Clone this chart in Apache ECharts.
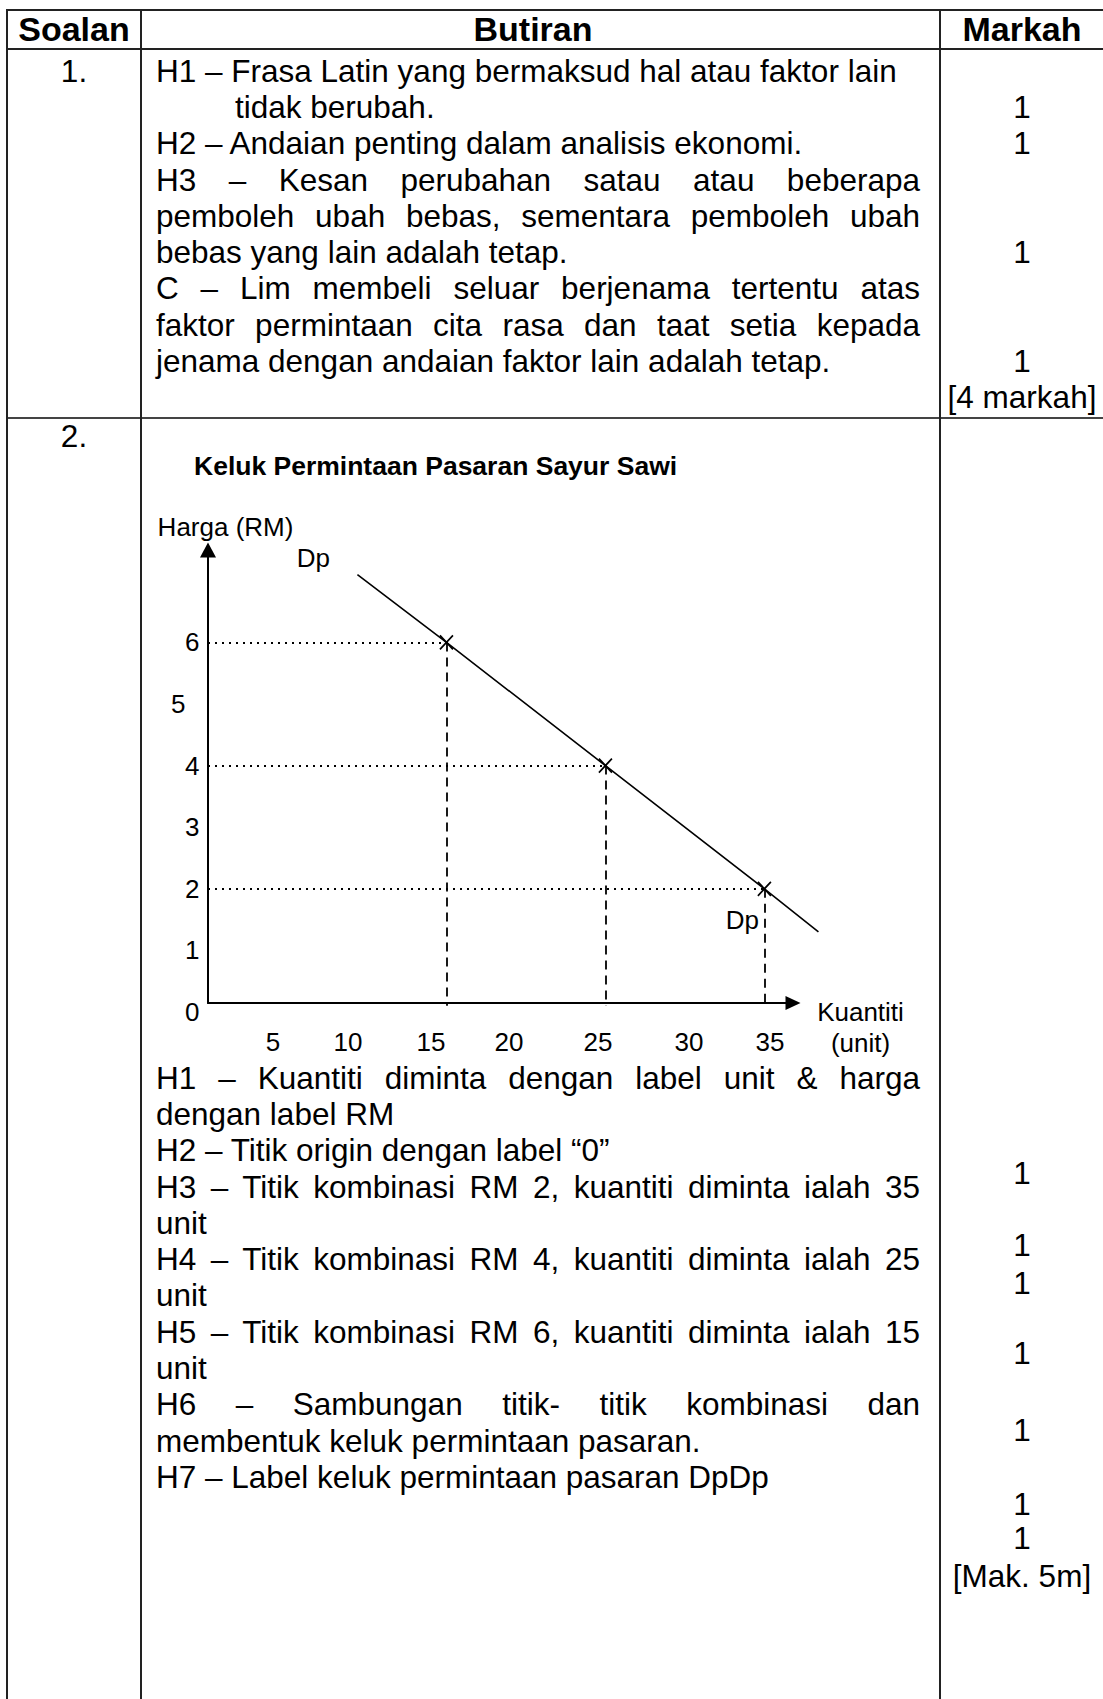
<!DOCTYPE html>
<html>
<head>
<meta charset="utf-8">
<script src="https://cdn.jsdelivr.net/npm/echarts@6/dist/echarts.min.js"></script>
<style>
html,body{margin:0;padding:0;background:#fff;}
body{width:1103px;height:1699px;position:relative;overflow:hidden;font-family:"Liberation Sans",Arial,sans-serif;color:#000;}
#chart{position:absolute;left:0;top:0;width:1103px;height:1699px;}
.ln{position:absolute;background:#222;}
.blk{position:absolute;font-size:31.5px;line-height:36.3px;white-space:nowrap;}
.blk div{height:36.3px;}
.j{text-align:justify;text-align-last:justify;width:764px;}
.h{position:absolute;top:10px;font-size:34px;font-weight:bold;line-height:39px;text-align:center;white-space:nowrap;}
.mk{position:absolute;left:941px;width:162px;text-align:center;font-size:31.5px;line-height:36.3px;white-space:nowrap;}
.mk div{height:36.3px;}
</style>
</head>
<body>
<div id="chart"></div>

<!-- table rules -->
<div class="ln" style="left:6px;top:9px;width:1097px;height:2px;"></div>
<div class="ln" style="left:6px;top:48px;width:1097px;height:2px;"></div>
<div class="ln" style="left:6px;top:417px;width:1097px;height:2px;background:#444;"></div>
<div class="ln" style="left:6px;top:9px;width:2px;height:1690px;"></div>
<div class="ln" style="left:140px;top:9px;width:2px;height:1690px;"></div>
<div class="ln" style="left:939px;top:9px;width:2px;height:1690px;"></div>

<!-- header -->
<div class="h" style="left:7px;width:134px;">Soalan</div>
<div class="h" style="left:133px;width:800px;">Butiran</div>
<div class="h" style="left:941px;width:162px;">Markah</div>

<!-- row 1 -->
<div class="blk" style="left:7px;top:52.7px;width:134px;text-align:center;"><div>1.</div></div>
<div class="blk" style="left:156px;top:52.7px;">
  <div>H1 – Frasa Latin yang bermaksud hal atau faktor lain</div>
  <div style="padding-left:79px;">tidak berubah.</div>
  <div>H2 – Andaian penting dalam analisis ekonomi.</div>
  <div class="j">H3 – Kesan perubahan satau atau beberapa</div>
  <div class="j">pemboleh ubah bebas, sementara pemboleh ubah</div>
  <div>bebas yang lain adalah tetap.</div>
  <div class="j">C – Lim membeli seluar berjenama tertentu atas</div>
  <div class="j">faktor permintaan cita rasa dan taat setia kepada</div>
  <div>jenama dengan andaian faktor lain adalah tetap.</div>
</div>
<div class="mk" style="top:52.7px;">
  <div></div><div>1</div><div>1</div><div></div><div></div><div>1</div><div></div><div></div><div>1</div><div>[4 markah]</div>
</div>

<!-- row 2 -->
<div class="blk" style="left:7px;top:418.2px;width:134px;text-align:center;"><div>2.</div></div>
<div class="blk" style="left:156px;top:1059.7px;line-height:36.2px;">
  <div class="j">H1 – Kuantiti diminta dengan label unit &amp; harga</div>
  <div>dengan label RM</div>
  <div>H2 – Titik origin dengan label “0”</div>
  <div class="j">H3 – Titik kombinasi RM 2, kuantiti diminta ialah 35</div>
  <div>unit</div>
  <div class="j">H4 – Titik kombinasi RM 4, kuantiti diminta ialah 25</div>
  <div>unit</div>
  <div class="j">H5 – Titik kombinasi RM 6, kuantiti diminta ialah 15</div>
  <div>unit</div>
  <div class="j">H6 – Sambungan titik- titik kombinasi dan</div>
  <div>membentuk keluk permintaan pasaran.</div>
  <div>H7 – Label keluk permintaan pasaran DpDp</div>
</div>
<div class="mk" style="top:1155.2px;">1</div>
<div class="mk" style="top:1227.2px;">1</div>
<div class="mk" style="top:1265.2px;">1</div>
<div class="mk" style="top:1335.2px;">1</div>
<div class="mk" style="top:1412.2px;">1</div>
<div class="mk" style="top:1486.2px;">1</div>
<div class="mk" style="top:1520.2px;">1</div>
<div class="mk" style="top:1558.2px;">[Mak. 5m]</div>

<script>
// ---- data ----
const chartTitle = 'Keluk Permintaan Pasaran Sayur Sawi';
const yAxisName = 'Harga (RM)';
const xAxisNameLines = ['Kuantiti', '(unit)'];
const curveLabel = 'Dp';
const yTicks = [0, 1, 2, 3, 4, 5, 6];
const yTickLabels = ['0', '1', '2', '3', '4', '5', '6'];
const xTicks = [5, 10, 15, 20, 25, 30, 35];
const xTickLabels = ['5', '10', '15', '20', '25', '30', '35'];
const quantity = [15, 25, 35];
const price = [6, 4, 2];
const curveStart = [9.4, 7.1];
const curveEnd = [38.4, 1.3];

// ---- styles / layout ----
const FONT = '"Liberation Sans", Arial, sans-serif';
const FS = 26;
const xLabelShift = [-14.5, -19, -15.5, -17, -7.5, 4, 5.5];
const yLabelShift = [0, 0, 0, 0, 0, -14, 0];
const dashEndY = 0.1;
const PX_PER_X = 15.897;
const X_MAX_AXIS = 36.8;   // visible axis length (units)
const X_MAX_DATA = 39.5;   // data grid extent (units), same scale
const Y_MAX = 7.5;

const xRich = {};
xLabelShift.forEach((s, i) => {
  xRich['t' + i] = { fontSize: FS, fontFamily: FONT, color: '#000',
    padding: s < 0 ? [0, -2 * s, 0, 0] : [0, 0, 0, 2 * s] };
});
const yRich = {};
yLabelShift.forEach((s, i) => {
  yRich['t' + i] = { fontSize: FS, fontFamily: FONT, color: '#000', padding: [0, -s, 0, 0] };
});

const hiddenLabelItem = (value, offset) => ({
  value: value, symbol: 'circle', symbolSize: 1,
  itemStyle: { color: 'rgba(0,0,0,0)', borderWidth: 0 },
  label: { show: true, formatter: curveLabel, position: 'inside', offset: offset,
    fontSize: FS, fontFamily: FONT, color: '#000' }
});

const curveData = [hiddenLabelItem(curveStart, [-44, -17])]
  .concat(quantity.map((q, i) => ({ value: [q, price[i]] })))
  .concat([hiddenLabelItem(curveEnd, [-76, -12])]);

const markLines = [];
quantity.forEach((q, i) => {
  markLines.push([
    { coord: [0, price[i]], lineStyle: { type: [2, 5], width: 2.2, color: '#000' } },
    { coord: [q, price[i]] }
  ]);
  markLines.push([
    { coord: [q, price[i]], lineStyle: { type: [9, 6], width: 1.8, color: '#000' } },
    { coord: [q, dashEndY] }
  ]);
});

const chart = echarts.init(document.getElementById('chart'), null, { renderer: 'svg' });
chart.setOption({
  animation: false,
  backgroundColor: 'transparent',
  title: {
    text: chartTitle, left: 194, top: 452, padding: 0,
    textStyle: { fontSize: 26.5, fontWeight: 'bold', fontFamily: FONT, color: '#000' }
  },
  grid: [
    { left: 208, top: 550, width: PX_PER_X * X_MAX_DATA, height: 462, containLabel: false, outerBoundsMode: 'none' },
    { left: 208, top: 550, width: PX_PER_X * X_MAX_AXIS, height: 453, containLabel: false, outerBoundsMode: 'none' }
  ],
  xAxis: [
    { gridIndex: 0, type: 'value', min: 0, max: X_MAX_DATA, show: false },
    {
      gridIndex: 1, type: 'value', min: 0, max: X_MAX_AXIS, interval: 5,
      axisLine: { onZero: false, symbol: ['none', 'triangle'], symbolSize: [14, 15],
        lineStyle: { color: '#000', width: 2 } },
      axisTick: { show: false }, splitLine: { show: false },
      axisLabel: {
        margin: 26, fontSize: FS, fontFamily: FONT, color: '#000', rich: xRich,
        formatter: v => { const i = xTicks.indexOf(v); return i < 0 ? '' : '{t' + i + '|' + xTickLabels[i] + '}'; }
      },
      name: '{s| }\n{a|' + xAxisNameLines[0] + '}\n{a|' + xAxisNameLines[1] + '}',
      nameLocation: 'end', nameGap: 67.5,
      nameTextStyle: {
        fontSize: FS, fontFamily: FONT, color: '#000', align: 'center', verticalAlign: 'middle',
        rich: {
          s: { fontSize: 10, lineHeight: 49 },
          a: { fontSize: FS, fontFamily: FONT, color: '#000', lineHeight: 31 }
        }
      }
    }
  ],
  yAxis: [
    {
      gridIndex: 0, type: 'value', min: 0, max: Y_MAX, interval: 1,
      axisLine: { show: false }, axisTick: { show: false }, splitLine: { show: false },
      axisLabel: {
        margin: 8.5, fontSize: FS, fontFamily: FONT, color: '#000', rich: yRich,
        formatter: v => { const i = yTicks.indexOf(v); return i < 0 ? '' : '{t' + i + '|' + yTickLabels[i] + '}'; }
      }
    },
    {
      gridIndex: 1, type: 'value', min: 0, max: 1,
      axisLine: { onZero: false, symbol: ['none', 'triangle'], symbolSize: [16, 15],
        lineStyle: { color: '#000', width: 2 } },
      axisTick: { show: false }, splitLine: { show: false }, axisLabel: { show: false },
      name: yAxisName, nameLocation: 'end', nameGap: 10,
      nameTextStyle: { fontSize: FS, fontFamily: FONT, color: '#000', align: 'center', padding: [0, 0, 0, 35] }
    }
  ],
  series: [{
    type: 'line', xAxisIndex: 0, yAxisIndex: 0, clip: false, silent: true,
    data: curveData,
    symbol: 'path://M0,0L10,10M10,0L0,10', symbolSize: [13, 14],
    itemStyle: { color: '#000', borderColor: '#000', borderWidth: 1.8 },
    lineStyle: { color: '#000', width: 1.6 },
    markLine: { silent: true, symbol: ['none', 'none'], label: { show: false }, data: markLines }
  }]
});
</script>
</body>
</html>
